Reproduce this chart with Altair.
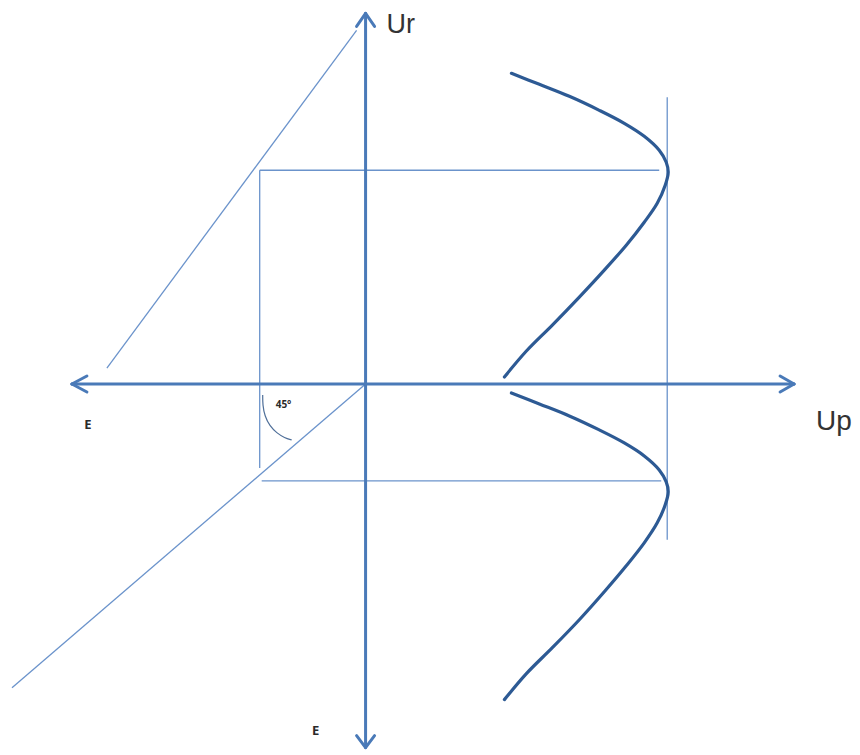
import altair as alt
import pandas as pd

# Diagram geometry, in the picture's own pixel frame (x to the right, y downward)
# thin construction lines: x, y, x2, y2
thin_x1 = [107, 366, 260, 260, 262, 668]
thin_y1 = [368, 384, 170, 170, 481, 97]
thin_x2 = [357, 12, 260, 660, 662, 668]
thin_y2 = [30, 688, 468, 170, 481, 540]

# axes and their arrow heads
axis_x1 = [72, 366, 72, 72, 795, 795, 366, 366, 366, 366]
axis_y1 = [384, 13, 384, 384, 384, 384, 13, 13, 748, 748]
axis_x2 = [795, 366, 87, 87, 781, 781, 357, 375, 357, 375]
axis_y2 = [384, 748, 376, 392, 376, 392, 26, 26, 736, 736]

# upper characteristic curve
up_x = [512, 540, 570, 600, 625, 645, 660, 667, 669, 666, 658, 645, 627, 605, 580, 553, 527, 505]
up_y = [73, 84, 96, 110, 123, 136, 150, 162, 172, 185, 203, 222, 245, 270, 297, 325, 351, 377]
# lower characteristic curve
lo_x = [512, 540, 570, 600, 625, 645, 660, 667, 669, 666, 658, 645, 627, 605, 580, 553, 527, 505]
lo_y = [393, 404, 416, 430, 443, 456, 470, 482, 492, 505, 523, 543, 566, 592, 620, 648, 674, 700]

# 45 degree arc
arc_x = [263, 263, 265, 270, 277, 285, 292]
arc_y = [395, 405, 416, 426, 433, 438, 440]

# labels
lab_text = ["Ur", "Up", "E", "E", "45°"]
lab_x = [387, 817, 88, 316, 276]
lab_y = [33, 430, 429, 735, 408]
lab_size = [27, 28, 13, 13, 10]
lab_weight = ["normal", "normal", "bold", "bold", "bold"]
lab_align = ["left", "left", "center", "center", "left"]

xs = alt.Scale(domain=[8, 852], nice=False, zero=False)
ys = alt.Scale(domain=[8, 747], nice=False, zero=False, reverse=True)

thin = pd.DataFrame({"x": thin_x1, "y": thin_y1, "x2": thin_x2, "y2": thin_y2})
axes = pd.DataFrame({"x": axis_x1, "y": axis_y1, "x2": axis_x2, "y2": axis_y2})

curves = pd.concat([
    pd.DataFrame({"x": up_x, "y": up_y, "curve": "upper", "i": range(len(up_x))}),
    pd.DataFrame({"x": lo_x, "y": lo_y, "curve": "lower", "i": range(len(lo_x))}),
])
arc = pd.DataFrame({"x": arc_x, "y": arc_y, "i": range(len(arc_x))})
labels = pd.DataFrame({"t": lab_text, "x": lab_x, "y": lab_y})

thin_layer = alt.Chart(thin).mark_rule(color="#6b93cb", strokeWidth=1.3).encode(
    x=alt.X("x:Q", scale=xs, axis=None), y=alt.Y("y:Q", scale=ys, axis=None),
    x2="x2:Q", y2="y2:Q")

axis_layer = alt.Chart(axes).mark_rule(color="#4a7ab8", strokeWidth=3, strokeCap="round").encode(
    x=alt.X("x:Q", scale=xs, axis=None), y=alt.Y("y:Q", scale=ys, axis=None),
    x2="x2:Q", y2="y2:Q")

curve_layer = alt.Chart(curves).mark_line(color="#2d5a94", strokeWidth=3.2, interpolate="catmull-rom", strokeCap="round").encode(
    x=alt.X("x:Q", scale=xs, axis=None), y=alt.Y("y:Q", scale=ys, axis=None),
    detail="curve:N", order="i:Q")

arc_layer = alt.Chart(arc).mark_line(color="#4f6f99", strokeWidth=1.2, interpolate="basis").encode(
    x=alt.X("x:Q", scale=xs, axis=None), y=alt.Y("y:Q", scale=ys, axis=None), order="i:Q")

def label(i):
    d = labels.iloc[[i]]
    big = lab_size[i] > 20
    return alt.Chart(d).mark_text(
        align=lab_align[i], baseline="alphabetic",
        font="Liberation Sans" if big else "Open Sans",
        fontSize=int(lab_size[i]), fontWeight=lab_weight[i],
        color="#333333" if big else "#2a2a2a").encode(
        x=alt.X("x:Q", scale=xs, axis=None), y=alt.Y("y:Q", scale=ys, axis=None), text="t:N")

text_layers = [label(i) for i in range(len(lab_text))]

chart = alt.layer(thin_layer, arc_layer, axis_layer, curve_layer, *text_layers).properties(
    width=844, height=739, padding=0, background="white"
).configure_view(stroke=None, strokeWidth=0)

chart.save("out.html", embed_options={"renderer": "svg", "actions": False})
